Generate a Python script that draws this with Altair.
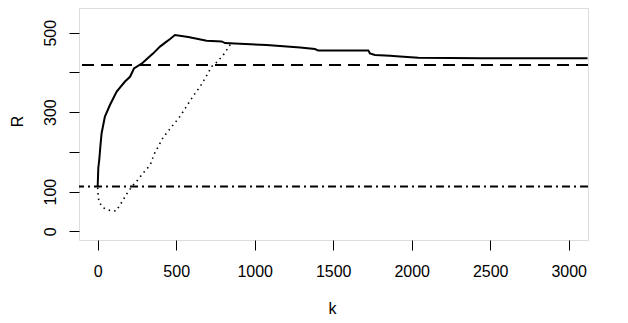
import altair as alt
import pandas as pd

# Solid curve (k, R)
k_solid = [0, 4, 10, 17, 25, 46, 78, 121, 174, 206, 231, 280, 322, 354, 397, 430, 461, 492,
           577, 694, 790, 811, 906, 1076, 1289, 1384, 1405, 1724, 1734, 1766, 1862, 1925,
           2042, 2446, 3120]
r_solid = [112, 160, 180, 213, 247, 289, 318, 352, 377, 389, 410, 422, 437, 448, 465, 475, 484, 494,
           489, 480, 478, 474, 472, 469, 463, 459, 455, 455, 448, 444, 442, 440,
           437, 436, 436]

# Dotted curve (k, R)
k_dot = [0, 2, 8, 36, 74, 117, 153, 191, 227, 255, 276, 297, 322, 340, 354, 365, 390, 410,
         440, 471, 524, 571, 613, 652, 690, 726, 762, 800, 843, 853]
r_dot = [110, 94, 74, 59, 53, 51, 73, 98, 117, 129, 140, 150, 161, 172, 188, 199, 216, 232,
         248, 263, 289, 318, 343, 364, 389, 415, 427, 444, 469, 473]

# Reference levels
h_dashed = 419
h_dashdot = 113

x_ticks = [0, 500, 1000, 1500, 2000, 2500, 3000]
y_ticks = [0, 100, 200, 300, 400, 500]

df_solid = pd.DataFrame({"k": k_solid, "R": r_solid})
df_dot = pd.DataFrame({"k": k_dot, "R": r_dot})

FONT = "Liberation Sans"

xscale = alt.Scale(domain=[-119, 3123], nice=False, zero=False)
yscale = alt.Scale(domain=[-21.9, 562.2], nice=False, zero=False)

xaxis = alt.Axis(values=x_ticks, title="k", domain=False, grid=False, format="d",
                 tickSize=10, tickColor="black", tickWidth=1,
                 labelFont=FONT, labelFontSize=16, labelColor="black",
                 labelBaseline="alphabetic", labelPadding=26, labelFlush=False,
                 labelOverlap=False,
                 titleFont=FONT, titleFontSize=16, titleFontWeight="normal",
                 titleColor="black", titleX=253, titleY=73,
                 titleBaseline="alphabetic", titleAlign="center")

yaxis = alt.Axis(values=y_ticks, title="R", domain=False, grid=False, format="d",
                 tickSize=10, tickColor="black", tickWidth=1,
                 labelExpr="(datum.value == 200 || datum.value == 400) ? '' : datum.label",
                 labelFont=FONT, labelFontSize=16, labelColor="black",
                 labelAngle=270, labelAlign="center", labelBaseline="alphabetic",
                 labelPadding=14, labelFlush=False, labelOverlap=False,
                 titleFont=FONT, titleFontSize=16, titleFontWeight="normal",
                 titleColor="black", titleAngle=270, titleX=-62, titleY=113,
                 titleAlign="center", titleBaseline="middle")

solid = alt.Chart(df_solid).mark_line(color="black", strokeWidth=2, clip=True).encode(
    x=alt.X("k:Q", scale=xscale, axis=xaxis),
    y=alt.Y("R:Q", scale=yscale, axis=yaxis),
)

dotted = alt.Chart(df_dot).mark_line(color="black", strokeWidth=1.6, strokeDash=[1.5, 4],
                                     clip=True).encode(
    x=alt.X("k:Q", scale=xscale),
    y=alt.Y("R:Q", scale=yscale),
)

dashed = alt.Chart(pd.DataFrame({"R": [h_dashed]})).mark_rule(
    color="black", strokeWidth=2, strokeDash=[12, 7]).encode(
    y=alt.Y("R:Q", scale=yscale))

dashdot = alt.Chart(pd.DataFrame({"R": [h_dashdot]})).mark_rule(
    color="black", strokeWidth=2, strokeDash=[8, 4, 2, 4]).encode(
    y=alt.Y("R:Q", scale=yscale))

chart = alt.layer(dashed, dashdot, dotted, solid).properties(
    width=509, height=232,
    autosize=alt.AutoSizeParams(type="none"),
    padding={"left": 71, "top": 0, "right": 30, "bottom": 75},
).configure_view(stroke="black", strokeWidth=1.2, fill="white").configure(
    background="white")

chart.save("out.html", embed_options={"renderer": "svg", "actions": False})
